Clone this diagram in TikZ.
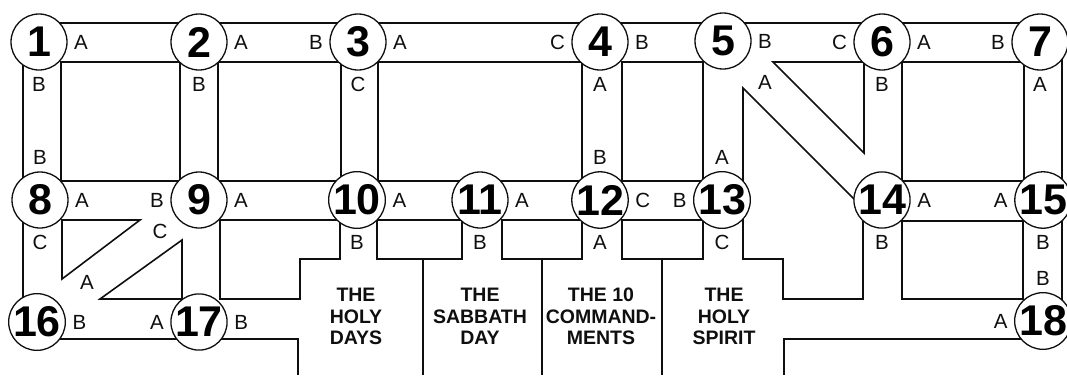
\documentclass[tikz,border=0pt]{standalone}
\usepackage{fontspec}
\setmainfont{Liberation Sans}
\usepackage{tikz}
\usetikzlibrary{positioning,calc}
\definecolor{tinta}{RGB}{15,15,15}

\begin{document}
\begin{tikzpicture}[x=1pt, y=-1pt,
  muro/.style={draw=tinta, line width=1.6pt},
  sala/.style={circle, draw=tinta, line width=1.3pt, fill=white,
    minimum size=56pt, inner sep=0pt, outer sep=0pt,
    font=\bfseries\fontsize{43}{43}\selectfont},
  puerta/.style={inner sep=0pt, text=tinta, font=\fontsize{20.5}{20.5}\selectfont},
  tema/.style={align=center, inner sep=0pt, anchor=north, text=tinta,
    font=\bfseries\fontsize{19.5}{21.5}\selectfont},
  node distance=7pt
]
\useasboundingbox (0,0) rectangle (1067,375);

% paredes exteriores
\draw[muro] (42,23) -- (1043,23);
\draw[muro] (23,42) -- (23,321);
\draw[muro] (1062,42) -- (1062,321);
\draw[muro] (40,339) -- (298,339) -- (298,375);
\draw[muro] (1043,339) -- (784,339) -- (784,375);

% bloques entre pasillos
\draw[muro] (61,62) rectangle (180,181);
\draw[muro] (218,62) rectangle (341,181);
\draw[muro] (378,62) rectangle (582,181);
\draw[muro] (622,62) rectangle (703,181);
\draw[muro] (773,62) -- (864,62) -- (864,153) -- cycle;
\draw[muro] (902,62) rectangle (1024,181);
\draw[muro] (62,220) -- (140,220) -- (62,279) -- cycle;
\draw[muro] (182,240) -- (182,299) -- (100,299) -- cycle;
\draw[muro] (220,220) -- (340,220) -- (340,259) -- (300,259) -- (300,299)
  -- (220,299) -- cycle;
\draw[muro] (377,220) rectangle (462,259);
\draw[muro] (502,220) rectangle (582,259);
\draw[muro] (622,220) rectangle (703,259);
\draw[muro] (743,88) -- (863,208) -- (863,299) -- (783,299) -- (783,259)
  -- (743,259) -- cycle;
\draw[muro] (902,221) rectangle (1023,299);
\draw[muro] (423,259) -- (423,375);
\draw[muro] (542,259) -- (542,375);
\draw[muro] (662,259) -- (662,375);

% salas
\node[sala] (s1) at (39,42) {1};
\node[sala] (s2) at (199,42) {2};
\node[sala] (s3) at (358,42) {3};
\node[sala] (s4) at (600,42) {4};
\node[sala] (s5) at (723,41) {5};
\node[sala] (s6) at (882,42) {6};
\node[sala] (s7) at (1040,42) {7};
\node[sala] (s8) at (40,200) {8};
\node[sala] (s9) at (199,200) {9};
\node[sala] (s10) at (357,200) {10};
\node[sala] (s11) at (480,200) {11};
\node[sala] (s12) at (600,200) {12};
\node[sala] (s13) at (722,200) {13};
\node[sala] (s14) at (882,200) {14};
\node[sala] (s15) at (1043,200) {15};
\node[sala] (s16) at (37,322) {16};
\node[sala] (s17) at (199,322) {17};
\node[sala] (s18) at (1043,321) {18};

% puertas
\node[puerta, right=of s1] (p1a) {A};
\node[puerta, below=of s1] (p1b) {B};
\node[puerta, right=of s2] (p2a) {A};
\node[puerta, below=of s2] (p2b) {B};
\node[puerta, left=of s3] (p3b) {B};
\node[puerta, right=of s3] (p3a) {A};
\node[puerta, below=of s3] (p3c) {C};
\node[puerta, left=of s4] (p4c) {C};
\node[puerta, right=of s4] (p4b) {B};
\node[puerta, below=of s4] (p4a) {A};
\node[puerta, right=of s5] (p5b) {B};
\node[puerta] (p5a) at ($(s5)+(42,41)$) {A};
\node[puerta, left=of s6] (p6c) {C};
\node[puerta, right=of s6] (p6a) {A};
\node[puerta, below=of s6] (p6b) {B};
\node[puerta, left=of s7] (p7b) {B};
\node[puerta, below=of s7] (p7a) {A};
\node[puerta, above=of s8] (p8b) {B};
\node[puerta, right=of s8] (p8a) {A};
\node[puerta, below=of s8] (p8c) {C};
\node[puerta, left=of s9] (p9b) {B};
\node[puerta, right=of s9] (p9a) {A};
\node[puerta] (p9c) at ($(s9)+(-39,31)$) {C};
\node[puerta, right=of s10] (p10a) {A};
\node[puerta, below=of s10] (p10b) {B};
\node[puerta, right=of s11] (p11a) {A};
\node[puerta, below=of s11] (p11b) {B};
\node[puerta, above=of s12] (p12b) {B};
\node[puerta, right=of s12] (p12c) {C};
\node[puerta, below=of s12] (p12a) {A};
\node[puerta, above=of s13] (p13a) {A};
\node[puerta, left=of s13] (p13b) {B};
\node[puerta, below=of s13] (p13c) {C};
\node[puerta, right=of s14] (p14a) {A};
\node[puerta, below=of s14] (p14b) {B};
\node[puerta, left=of s15] (p15a) {A};
\node[puerta, below=of s15] (p15b) {B};
\node[puerta, right=of s16] (p16b) {B};
\node[puerta] (p16a) at ($(s16)+(50,-40)$) {A};
\node[puerta, left=of s17] (p17a) {A};
\node[puerta, right=of s17] (p17b) {B};
\node[puerta, above=of s18] (p18b) {B};
\node[puerta, left=of s18] (p18a) {A};

% temas
\node[tema] (t1) at (356,288) {THE\\HOLY\\DAYS};
\node[tema] (t2) at (480,288) {THE\\SABBATH\\DAY};
\node[tema] (t3) at (601,288) {THE 10\\COMMAND-\\MENTS};
\node[tema] (t4) at (724,288) {THE\\HOLY\\SPIRIT};
\end{tikzpicture}
\end{document}
